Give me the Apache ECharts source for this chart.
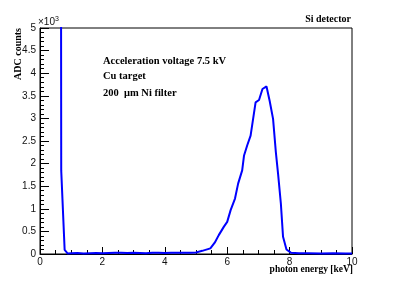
<!DOCTYPE html>
<html>
<head>
<meta charset="utf-8">
<script src="https://cdn.jsdelivr.net/npm/echarts@6/dist/echarts.min.js"></script>
<style>html,body{margin:0;padding:0;background:#fff}#c{width:394px;height:283px}</style>
</head>
<body>
<div id="c"></div>
<script>
const energy = [0.67, 0.68, 0.79, 0.89, 1.0, 1.2, 1.4, 1.6, 1.8, 2.0, 2.2, 2.4, 2.6, 2.8, 3.0, 3.2, 3.4, 3.6, 3.8, 4.0, 4.2, 4.4, 4.6, 4.8, 5.0, 5.2, 5.46, 5.6, 5.73, 5.89, 6.0, 6.11, 6.25, 6.35, 6.48, 6.54, 6.64, 6.75, 6.91, 7.02, 7.13, 7.26, 7.36, 7.47, 7.56, 7.63, 7.72, 7.79, 7.9, 8.04, 8.3, 8.6, 9.0, 9.4, 9.8, 10.0];
const counts = [9000, 1850, 90, 10, 15, 20, 10, 15, 20, 15, 20, 25, 30, 20, 25, 20, 15, 30, 25, 20, 30, 25, 30, 30, 35, 70, 125, 250, 418, 600, 711, 970, 1227, 1557, 1850, 2180, 2400, 2620, 3355, 3407, 3650, 3707, 3390, 2990, 2250, 1780, 1117, 380, 100, 30, 15, 15, 10, 15, 10, 10];
const yTicks = ['0', '0.5', '1', '1.5', '2', '2.5', '3', '3.5', '4', '4.5', '5'];
const xTicks = ['0', '2', '4', '6', '8', '10'];

const serifB = {fontFamily: 'Liberation Serif', fontWeight: 'bold', fill: '#000'};
const chart = echarts.init(document.getElementById('c'), null, {renderer: 'canvas'});
chart.setOption({
  animation: false,
  backgroundColor: '#fff',
  grid: {left: 40, right: 42, top: 28, bottom: 29, show: true, borderColor: '#000', borderWidth: 1, backgroundColor: 'transparent'},
  xAxis: {
    type: 'value', min: 0, max: 10, interval: 2,
    axisLine: {lineStyle: {color: '#000', width: 1}},
    axisTick: {inside: true, length: 7, lineStyle: {color: '#000'}},
    minorTick: {show: true, splitNumber: 4, length: 4, lineStyle: {color: '#000'}},
    splitLine: {show: false},
    axisLabel: {color: '#111', fontFamily: 'Liberation Sans', fontSize: 10, margin: 3,
      formatter: (v) => xTicks[Math.round(v / 2)]}
  },
  yAxis: {
    type: 'value', min: 0, max: 5000, interval: 500,
    axisLine: {lineStyle: {color: '#000', width: 1}},
    axisTick: {inside: true, length: 9, lineStyle: {color: '#000'}},
    minorTick: {show: true, splitNumber: 5, length: 4, lineStyle: {color: '#000'}},
    splitLine: {show: false},
    axisLabel: {color: '#111', fontFamily: 'Liberation Sans', fontSize: 10, margin: 4,
      formatter: (v) => yTicks[Math.round(v / 500)]}
  },
  series: [{
    type: 'line', clip: true, symbol: 'none',
    data: energy.map((e, i) => [e, counts[i]]),
    lineStyle: {color: '#0000ff', width: 2}
  }],
  graphic: [
    {type: 'text', x: 38, y: 28, style: {text: '×10{s|3}', fontFamily: 'Liberation Sans', fontSize: 10, fill: '#111', verticalAlign: 'bottom',
      rich: {s: {fontSize: 7, fontFamily: 'Liberation Sans', fill: '#111', verticalAlign: 'top', padding: [0, 0, 5, 0]}}}},
    {type: 'text', x: 18, y: 28, rotation: Math.PI / 2, style: Object.assign({text: 'ADC counts', fontSize: 10, align: 'right', verticalAlign: 'middle'}, serifB)},
    {type: 'text', x: 353, y: 270, style: Object.assign({text: 'photon energy [keV]', fontSize: 9.5, align: 'right', verticalAlign: 'middle'}, serifB)},
    {type: 'text', x: 351, y: 19, style: Object.assign({text: 'Si detector', fontSize: 10, align: 'right', verticalAlign: 'middle'}, serifB)},
    {type: 'text', x: 103, y: 61, style: Object.assign({text: 'Acceleration voltage 7.5 kV', fontSize: 10.5, verticalAlign: 'middle'}, serifB)},
    {type: 'text', x: 103, y: 76, style: Object.assign({text: 'Cu target', fontSize: 10.5, verticalAlign: 'middle'}, serifB)},
    {type: 'text', x: 103, y: 93, style: Object.assign({text: '200  μm Ni filter', fontSize: 10.5, verticalAlign: 'middle'}, serifB)}
  ]
});
</script>
</body>
</html>
